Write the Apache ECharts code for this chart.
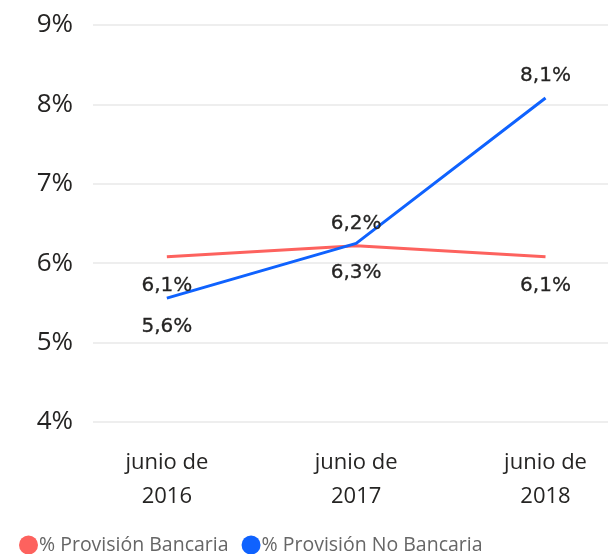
<!DOCTYPE html>
<html>
<head>
<meta charset="utf-8">
<script src="https://cdn.jsdelivr.net/npm/echarts@6/dist/echarts.min.js"></script>
<style>
  html, body { margin: 0; padding: 0; background: #fff; }
  #chart { width: 608px; height: 554px; }
</style>
</head>
<body>
<div id="chart"></div>
<script>
// datos
var categories = ['junio de\n2016', 'junio de\n2017', 'junio de\n2018'];
var bancaria = [6.08, 6.22, 6.08];
var noBancaria = [5.56, 6.25, 8.08];
var bancariaLabelPos = ['bottom', 'top', 'bottom'];
var noBancariaLabelPos = ['bottom', 'bottom', 'top'];

var fmt = function(v){
	return v.toFixed(1).replace('.', ',') + '%';
};

var buildData = function(values, positions){
	var out = [];
	for (var i = 0; i < values.length; i++) {
		out.push({
			value: [i, values[i]],
			label: {show: true, position: positions[i], distance: positions[i] == 'top' ? 12 : 19}
		});
	}
	return out;
};

var labelStyle = {
	show: true,
	color: '#252423',
	fontSize: 20,
	fontFamily: '"DejaVu Sans", sans-serif',
	textBorderColor: '#252423',
	textBorderWidth: 0.3,
	formatter: function(p){ return fmt(p.value[1]); }
};

var myChart = echarts.init(document.getElementById('chart'));
var option = {
	animation: false,
	textStyle: {fontFamily: '"Segoe UI", "Open Sans", "Noto Sans", sans-serif'},
	grid: {left: 93, right: 0, top: 25, bottom: 132},
	legend: {
		left: 14,
		top: 530,
		icon: 'circle',
		itemWidth: 19,
		itemHeight: 19,
		itemGap: 13,
		textStyle: {color: '#666', fontSize: 19.5, padding: [0, 0, 0, -4]},
		data: ['% Provisión Bancaria', '% Provisión No Bancaria']
	},
	xAxis: {
		type: 'value',
		min: -0.39,
		max: 2.33,
		splitLine: {show: false},
		axisLine: {show: false},
		axisTick: {show: false},
		axisLabel: {
			customValues: [0, 1, 2],
			formatter: function(v){ return categories[Math.round(v)]; },
			color: '#252423',
			fontSize: 22,
			lineHeight: 34,
			margin: 24
		}
	},
	yAxis: {
		type: 'value',
		min: 4,
		max: 9,
		interval: 1,
		axisLine: {show: false},
		axisTick: {show: false},
		splitLine: {lineStyle: {color: '#e9e9e9', width: 1.5}},
		axisLabel: {
			formatter: '{value}%',
			color: '#252423',
			fontSize: 26,
			margin: 20
		}
	},
	series: [
		{
			name: '% Provisión Bancaria',
			type: 'line',
			symbol: 'circle',
			symbolSize: 0,
			color: '#FD625E',
			lineStyle: {width: 3},
			label: labelStyle,
			data: buildData(bancaria, bancariaLabelPos)
		},
		{
			name: '% Provisión No Bancaria',
			type: 'line',
			symbol: 'circle',
			symbolSize: 0,
			color: '#0F62FE',
			lineStyle: {width: 3},
			label: labelStyle,
			data: buildData(noBancaria, noBancariaLabelPos)
		}
	]
};
myChart.setOption(option);
</script>
</body>
</html>
